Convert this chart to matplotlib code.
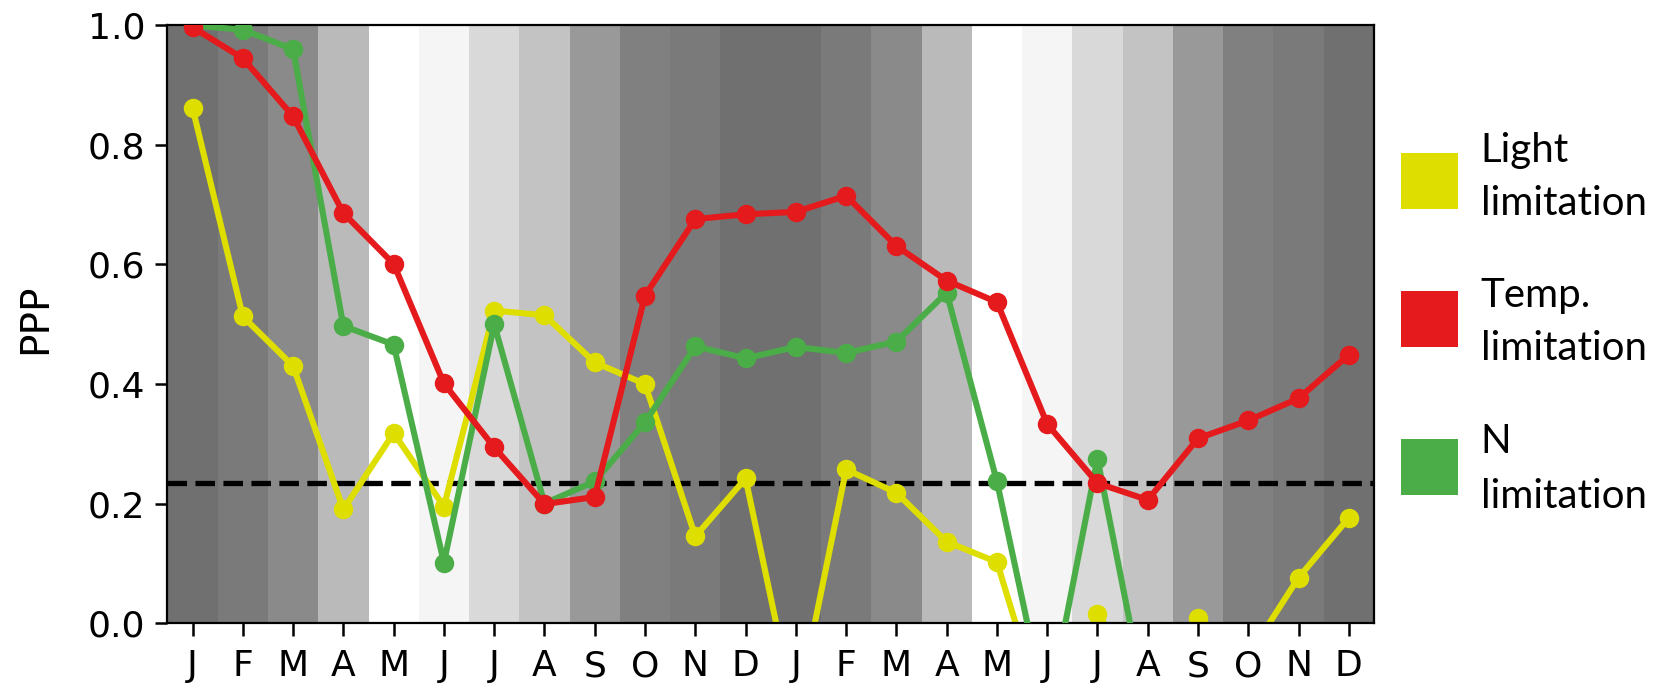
import numpy as np
import matplotlib
matplotlib.use('Agg')
import matplotlib.pyplot as plt
from matplotlib.patches import Rectangle

# ============================================
# Data
# ============================================

months = ['J', 'F', 'M', 'A', 'M', 'J', 'J', 'A', 'S', 'O', 'N', 'D'] * 2

light = [0.862, 0.513, 0.430, 0.190, 0.318, 0.195, 0.523, 0.515, 0.436, 0.400, 0.145, 0.242,
         -0.156, 0.257, 0.218, 0.136, 0.102, -0.173, 0.015, -0.100, 0.009, -0.055, 0.076, 0.176]
temp = [0.997, 0.945, 0.848, 0.686, 0.601, 0.401, 0.294, 0.199, 0.211, 0.548, 0.676, 0.684,
        0.688, 0.715, 0.631, 0.573, 0.537, 0.333, 0.234, 0.206, 0.309, 0.339, 0.376, 0.449]
nitro = [1.000, 0.993, 0.960, 0.497, 0.466, 0.101, 0.500, 0.200, 0.237, 0.336, 0.463, 0.443,
         0.462, 0.452, 0.471, 0.553, 0.237, -0.155, 0.275, -0.150, -0.200, -0.200, -0.200, -0.200]

threshold = 0.235

# grey shade of the monthly background bands (0-255)
band_grey = [0x70, 0x7a, 0x8a, 0xba, 0xff, 0xf5, 0xd9, 0xc3, 0x99, 0x80, 0x7a, 0x70] * 2

labels = ['Light\nlimitation', 'Temp.\nlimitation', 'N\nlimitation']
colors = ['#dede00', '#e41a1c', '#4aad48']

# ============================================
# Plot
# ============================================

fig = plt.figure(figsize=(8.305, 3.415), dpi=200)
ax = fig.add_axes([0.1008, 0.0878, 0.7264, 0.8749])

x = np.arange(len(months))

# monthly background bands
for i, g in enumerate(band_grey):
    ax.axvspan(i - 0.5, i + 0.5, color=(g / 255,) * 3, lw=0, zorder=0)

ax.axhline(threshold, color='black', linestyle='--', lw=1.9, zorder=1)

ax.plot(x, light, '-o', color=colors[0], lw=2.2, markersize=6, zorder=2)
ax.plot(x, nitro, '-o', color=colors[2], lw=2.2, markersize=6, zorder=3)
ax.plot(x, temp, '-o', color=colors[1], lw=2.2, markersize=6, zorder=4)

ax.set_xlim(-0.5, 23.5)
ax.set_ylim(0, 1)
ax.set_xticks(x)
ax.set_xticklabels(months, fontsize=13)
ax.set_yticks([0, 0.2, 0.4, 0.6, 0.8, 1.0])
ax.set_yticklabels(['0.0', '0.2', '0.4', '0.6', '0.8', '1.0'], fontsize=13)
ax.tick_params(length=4.5, width=0.9)
ax.tick_params(axis='x', pad=5)
ax.set_ylabel('PPP', fontsize=14)
ax.yaxis.set_label_coords(-0.094, 0.51)

# legend drawn by hand (squares + two-line labels)
sq_bottom = [0.694, 0.492, 0.2753]
baselines = [(0.7632, 0.6852), (0.5509, 0.4729), (0.3363, 0.2558)]
for lab, col, yb, (b1, b2) in zip(labels, colors, sq_bottom, baselines):
    fig.patches.append(Rectangle((0.8435, yb), 0.0343, 0.082, transform=fig.transFigure,
                                 facecolor=col, edgecolor='none'))
    l1, l2 = lab.split('\n')
    fig.text(0.8915, b1, l1, fontsize=14.5, family='Lato', va='baseline')
    fig.text(0.8915, b2, l2, fontsize=14.5, family='Lato', va='baseline')

plt.savefig('out.png', dpi=200)
